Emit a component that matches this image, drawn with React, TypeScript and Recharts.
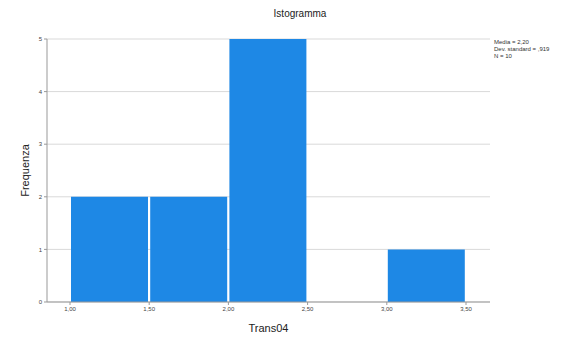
import React from "react";
import { BarChart, Bar, XAxis, YAxis, CartesianGrid, Label } from "recharts";

const binMids = [1.25, 1.75, 2.25, 2.75, 3.25];
const frequencies = [2, 2, 5, 0, 1];
const edgeTicks = [1.0, 1.5, 2.0, 2.5, 3.0, 3.5];
const yTicks = [0, 1, 2, 3, 4, 5];
const statsLines = ["Media = 2,20", "Dev. standard = ,919", "N = 10"];

const data = binMids.map((m, i) => ({ mid: m, freq: frequencies[i] }));

const FONT = "'Liberation Sans', Arial, sans-serif";

export default function App() {
  return (
    <div style={{ position: "absolute", left: 0, top: 0, width: 573, height: 338, background: "#fff", fontFamily: FONT }}>
      <div style={{ position: "absolute", left: 0, width: 600, top: 8, textAlign: "center", fontSize: 10, color: "#222" }}>
        Istogramma
      </div>
      <BarChart
        width={573}
        height={338}
        data={data}
        margin={{ top: 39, right: 83, bottom: 0, left: 0 }}
      >
        <CartesianGrid horizontal vertical={false} stroke="#d9d9d9" strokeWidth={1} />
        <XAxis
          dataKey="mid"
          type="number"
          domain={[1, 3.5]}
          ticks={edgeTicks}
          padding={{ left: 23, right: 24 }}
          tickFormatter={(v: number) => v.toFixed(2).replace(".", ",")}
          tick={{ fontSize: 6, fill: "#444", fontFamily: FONT }}
          tickLine={{ stroke: "#999" }}
          tickSize={3}
          axisLine={{ stroke: "#999" }}
          height={36}
          allowDataOverflow
        >
          <Label value="Trans04" position="insideBottom" offset={6} style={{ fontSize: 11, fill: "#222", fontFamily: FONT }} />
        </XAxis>
        <YAxis
          domain={[0, 5]}
          ticks={yTicks}
          width={47}
          tick={{ fontSize: 6, fill: "#444", fontFamily: FONT }}
          tickLine={{ stroke: "#999" }}
          tickSize={3}
          axisLine={{ stroke: "#999" }}
        >
          <Label value="Frequenza" angle={-90} position="insideLeft" offset={25} style={{ fontSize: 11, fill: "#222", fontFamily: FONT, textAnchor: "middle" }} />
        </YAxis>
        <Bar dataKey="freq" fill="#1e88e5" barSize={77} isAnimationActive={false} />
      </BarChart>
      <div style={{ position: "absolute", left: 494, top: 39, fontSize: 6, lineHeight: "7px", color: "#333", whiteSpace: "nowrap" }}>
        {statsLines.map((s) => (
          <div key={s}>{s}</div>
        ))}
      </div>
    </div>
  );
}
